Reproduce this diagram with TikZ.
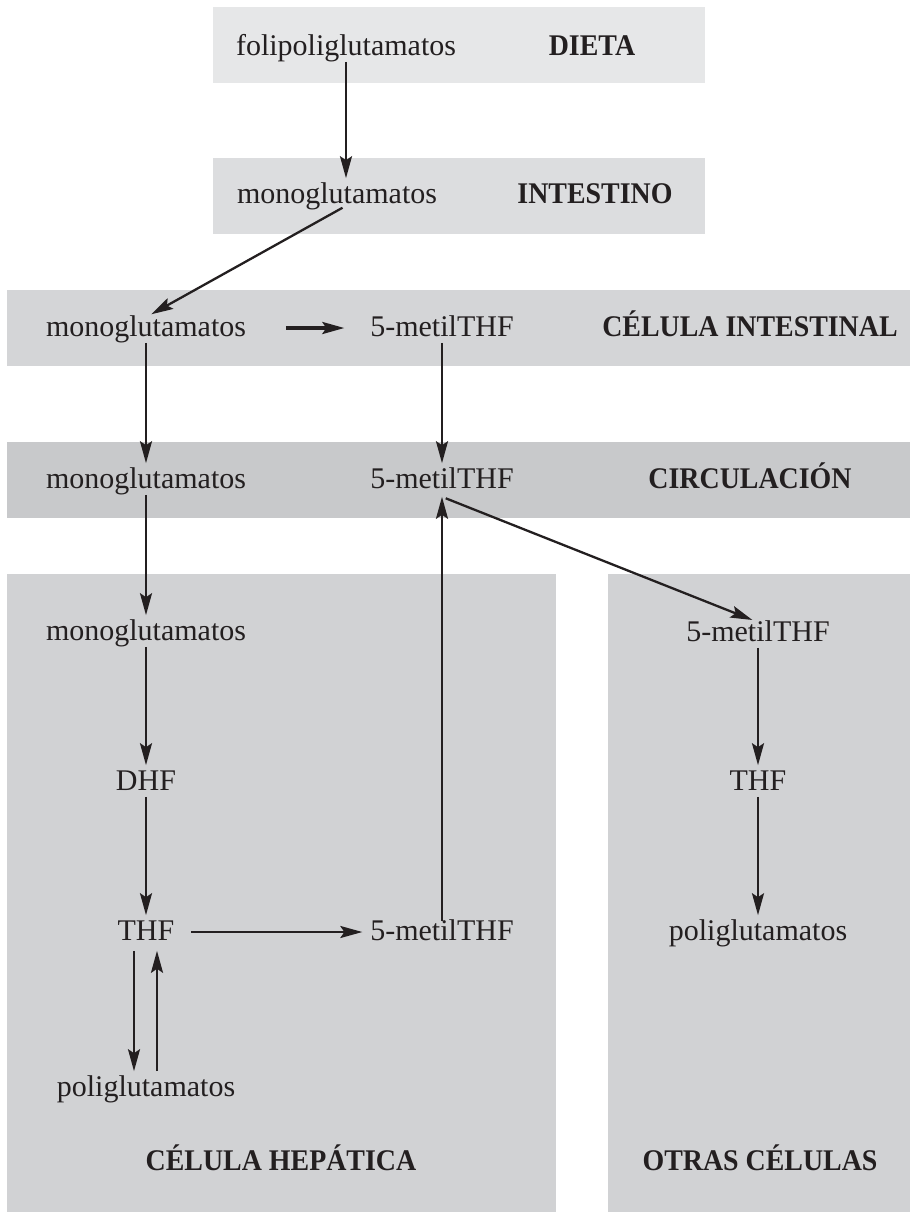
\documentclass[tikz,border=0pt]{standalone}
\usepackage{fontspec}
\setmainfont{Liberation Serif}
\newfontfamily\zonefont[FakeStretch=0.93]{Liberation Serif}
\usetikzlibrary{arrows.meta}
\definecolor{ink}{RGB}{35,31,32}
\definecolor{dietafill}{RGB}{230,231,232}
\definecolor{intestfill}{RGB}{220,221,223}
\definecolor{celintfill}{RGB}{212,213,215}
\definecolor{circfill}{RGB}{200,201,203}
\definecolor{cellfill}{RGB}{209,210,212}

\begin{document}
\begin{tikzpicture}[x=0.5pt, y=-0.5pt,
			txt/.style={inner sep=0pt, outer sep=1pt, text height=0.85em, text depth=0.03em, font=\fontsize{15}{18}\selectfont, text=ink},
			zone/.style={inner sep=0pt, text height=0.85em, text depth=0.03em, font=\zonefont\bfseries\fontsize{15}{18}\selectfont, text=ink},
			arrow/.style={-{Stealth[length=11pt, width=6pt, inset=2pt]}, line width=1.15pt, draw=ink, shorten <=2pt, shorten >=3pt}]

			\useasboundingbox (0,0) rectangle (910,1212);
			\fill[dietafill] (213,7) rectangle (705,83);
			\fill[intestfill] (213,158) rectangle (705,234);
			\fill[celintfill] (7,290) rectangle (910,366);
			\fill[circfill] (7,442) rectangle (910,518);
			\fill[cellfill] (7,574) rectangle (556,1212);
			\fill[cellfill] (608,574) rectangle (910,1212);

			\node[txt] (fpoly) at (346,47) {folipoliglutamatos};
			\node[zone] (Ldieta) at (592,47) {DIETA};
			\node[txt] (imono) at (337,195) {monoglutamatos};
			\node[zone] (Lintest) at (595,195) {INTESTINO};

			\node[txt] (cmono) at (146,328) {monoglutamatos};
			\node[txt] (cmeth) at (442,328) {5-metilTHF};
			\node[zone] (Lcelint) at (750,328) {CÉLULA INTESTINAL};

			\node[txt] (bmono) at (146,480) {monoglutamatos};
			\node[txt] (bmeth) at (442,480) {5-metilTHF};
			\node[zone] (Lcirc) at (750,480) {CIRCULACIÓN};

			\node[txt] (hmono) at (146,632) {monoglutamatos};
			\node[txt] (hdhf) at (146,782) {DHF};
			\node[txt] (hthf) at (146,932) {THF};
			\node[txt] (hmeth) at (442,932) {5-metilTHF};
			\node[txt] (hpoli) at (146,1088) {poliglutamatos};
			\node[zone] (Lhep) at (281,1162) {CÉLULA HEPÁTICA};

			\node[txt] (ometh) at (758,633) {5-metilTHF};
			\node[txt] (othf) at (758,782) {THF};
			\node[txt] (opoli) at (758,932) {poliglutamatos};
			\node[zone] (Lotras) at (760,1162) {OTRAS CÉLULAS};

			\draw[arrow] (fpoly.south) -- (fpoly.south |- imono.north);
			\draw[arrow] ([xshift=4.5pt]imono.south) -- (cmono.north);
			\draw[arrow, line width=1.6pt, shorten <=19pt, shorten >=12pt] (cmono) -- (cmeth);
			\draw[arrow] (cmono) -- (bmono);
			\draw[arrow] (cmeth) -- (bmeth);
			\draw[arrow] (bmono) -- (hmono);
			\draw[arrow] ([yshift=-3pt]bmeth.south) -- (ometh.north);
			\draw[arrow] (hmono) -- (hdhf);
			\draw[arrow] (hdhf) -- (hthf);
			\draw[arrow, shorten <=7.5pt] (hthf) -- (hmeth);
			\draw[arrow, shorten <=0pt] (hmeth) -- (bmeth);
			\draw[arrow, shorten <=4pt] ([xshift=-6pt]hthf.south) -- ([xshift=-6pt]hthf.south |- hpoli.north);
			\draw[arrow, shorten <=3pt, shorten >=4pt] ([xshift=5.5pt]hthf.south |- hpoli.north) -- ([xshift=5.5pt]hthf.south);
			\draw[arrow] (ometh) -- (othf);
			\draw[arrow] (othf) -- (opoli);
		\end{tikzpicture}
\end{document}
